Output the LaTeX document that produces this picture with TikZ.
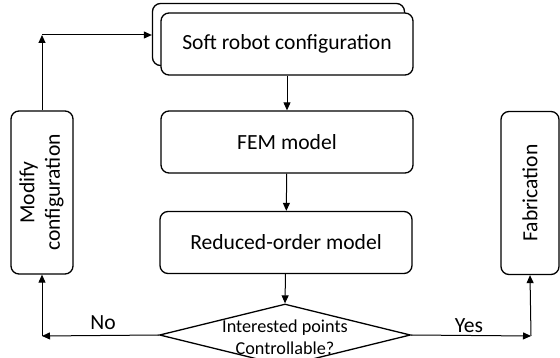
\documentclass[tikz,border=0pt]{standalone}
\usepackage{fontspec}
\setmainfont{Carlito}
\usepackage{graphicx}
\usetikzlibrary{arrows.meta,shapes.geometric}
\tikzset{
	stepbox/.style={
			draw, rounded corners=8pt, line width=1.3pt, fill=white,
			minimum width=252pt, minimum height=62pt, inner sep=0pt,
			font=\fontsize{21.6}{25.5}\selectfont
		},
	sidebox/.style={
			stepbox, minimum width=#1, minimum height=163pt
		},
	decision/.style={
			draw, diamond, line width=1.3pt, minimum width=251pt,
			minimum height=62pt, inner sep=0pt
		},
	arr/.style={-{Triangle[length=8pt,width=7pt]}, line width=1pt},
	lbl/.style={font=\fontsize{21.6}{25.5}\selectfont}
}

\begin{document}
\begin{tikzpicture}[x=1pt, y=-1pt]
		\useasboundingbox (0, 0) rectangle (560, 358);
		\clip (0, 0) rectangle (560, 358);

		% main column
		\node[stepbox]	(back)	at (278.5, 34.5)	{};
		\node[stepbox]	(soft)	at (287, 44)	{Soft robot configuration};
		\node[stepbox]	(fem)	at (287, 142)	{FEM model};
		\node[stepbox]	(rom)	at (286, 242.5)	{Reduced-order model};
		\node[decision]	(dec)	at (285, 335)	{};
		\node[align=center, font=\fontsize{18.2}{22}\selectfont]	(dectext)	at (285, 337)	{Interested points\\Controllable?};

		% side boxes
		\node[sidebox=62pt]	(modify)	at (42, 192.5)
			{\rotatebox{90}{\begin{tabular}{@{}c@{}}Modify\\configuration\end{tabular}}};
		\node[sidebox=58pt]	(fab)	at (530, 193)	{\rotatebox{90}{Fabrication}};

		\coordinate (topleft)	at (42, 35);
		\coordinate (botleft)	at (42, 336);
		\coordinate (botright)	at (531, 336);

		\draw[arr]	(soft)	to (fem);
		\draw[arr]	(fem)	to (rom);
		\draw[arr]	(rom)	to (dec.north);

		\draw[arr]	(dec.west)	to (botleft);
		\draw[arr]	(botleft)	to (modify.south);
		\draw[arr]	(modify.north)	to (topleft);
		\draw[arr]	(topleft)	to (back.west |- topleft);

		\draw[arr]	(dec.east)	to (botright);
		\draw[arr]	(botright)	to (fab.south);

		\node[lbl]	(no)	at (103, 323)	{No};
		\node[lbl]	(yes)	at (469, 326)	{Yes};
	\end{tikzpicture}
\end{document}
